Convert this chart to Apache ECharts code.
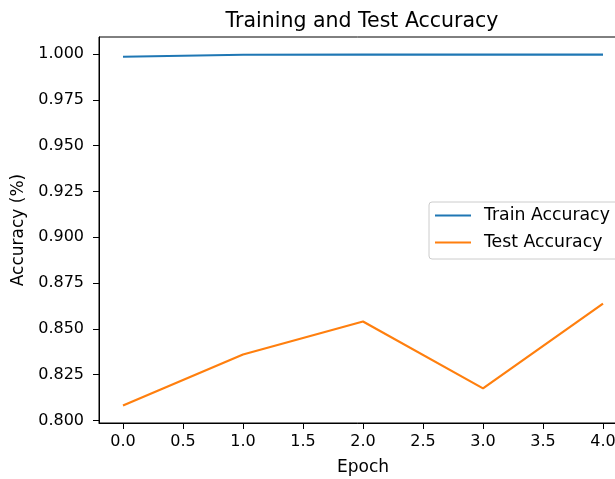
<!DOCTYPE html>
<html>
<head>
<meta charset="utf-8">
<script src="https://cdn.jsdelivr.net/npm/echarts@6/dist/echarts.min.js"></script>
<style>
  html, body { margin: 0; padding: 0; background: #fff; }
  #chart { width: 615px; height: 479px; }
</style>
</head>
<body>
<div id="chart"></div>
<script>
// Per-epoch accuracy values
const epochs = [0, 1, 2, 3, 4];
const trainAccuracy = [0.9985, 0.9996, 0.9997, 0.9997, 0.9997];
const testAccuracy = [0.8082, 0.8360, 0.8540, 0.8175, 0.8638];

// Tick positions shown on each axis
const xTicks = [0, 0.5, 1, 1.5, 2, 2.5, 3, 3.5, 4];
const yTicks = [0.800, 0.825, 0.850, 0.875, 0.900, 0.925, 0.950, 0.975, 1.000];

const FONT = 'DejaVu Sans';
const TICK_SIZE = 16;
const LABEL_SIZE = 17;

// Axis limits padded by 5% of the data span on each side
const xMin = -0.2, xMax = 4.2;
const allY = trainAccuracy.concat(testAccuracy);
const yLo = Math.min.apply(null, allY), yHi = Math.max.apply(null, allY);
const yPad = (yHi - yLo) * 0.05;

const chart = echarts.init(document.getElementById('chart'), null, { renderer: 'canvas' });

chart.setOption({
  animation: false,
  backgroundColor: '#ffffff',
  textStyle: { fontFamily: FONT },
  title: {
    text: 'Training and Test Accuracy',
    left: 357,
    textAlign: 'center',
    top: 6,
    textStyle: { fontFamily: FONT, fontSize: 20.5, fontWeight: 'normal', color: '#000' }
  },
  grid: {
    left: 99, top: 37, width: 528, height: 386,
    containLabel: false,
    outerBoundsMode: 'none',
    show: true,
    borderColor: '#000',
    borderWidth: 1,
    backgroundColor: 'transparent'
  },
  legend: {
    orient: 'vertical',
    left: 429,
    top: 202,
    padding: [5, 10, 8, 6],
    itemGap: 10,
    itemWidth: 36,
    itemHeight: 14,
    backgroundColor: 'rgba(255,255,255,0.8)',
    borderColor: '#cccccc',
    borderWidth: 1,
    borderRadius: 3,
    textStyle: { fontFamily: FONT, fontSize: 17.3, color: '#000', padding: [0, 0, 0, 8] },
    data: [
      { name: 'Train Accuracy', icon: 'path://M0,0 L36,0 L36,2.2 L0,2.2 Z' },
      { name: 'Test Accuracy', icon: 'path://M0,0 L36,0 L36,2.2 L0,2.2 Z' }
    ]
  },
  xAxis: {
    type: 'value',
    min: xMin,
    max: xMax,
    name: 'Epoch',
    nameLocation: 'middle',
    nameGap: 36,
    nameTextStyle: { fontFamily: FONT, fontSize: LABEL_SIZE, color: '#000' },
    axisLine: { show: true, onZero: false, lineStyle: { color: '#000', width: 1 } },
    axisTick: { show: true, length: 6, customValues: xTicks, lineStyle: { color: '#000' } },
    axisLabel: {
      customValues: xTicks,
      margin: 11,
      fontFamily: FONT, fontSize: TICK_SIZE, color: '#000',
      formatter: v => v.toFixed(1)
    },
    splitLine: { show: false }
  },
  yAxis: {
    type: 'value',
    min: yLo - yPad,
    max: yHi + yPad,
    name: 'Accuracy (%)',
    nameLocation: 'middle',
    nameGap: 70,
    nameTextStyle: { fontFamily: FONT, fontSize: LABEL_SIZE, color: '#000' },
    axisLine: { show: true, onZero: false, lineStyle: { color: '#000', width: 1 } },
    axisTick: { show: true, length: 6, customValues: yTicks, lineStyle: { color: '#000' } },
    axisLabel: {
      customValues: yTicks,
      margin: 15,
      fontFamily: FONT, fontSize: TICK_SIZE, color: '#000',
      formatter: v => v.toFixed(3)
    },
    splitLine: { show: false }
  },
  series: [
    {
      name: 'Train Accuracy',
      type: 'line',
      data: epochs.map((e, i) => [e, trainAccuracy[i]]),
      symbol: 'none',
      color: '#1f77b4',
      lineStyle: { color: '#1f77b4', width: 2.2 }
    },
    {
      name: 'Test Accuracy',
      type: 'line',
      data: epochs.map((e, i) => [e, testAccuracy[i]]),
      symbol: 'none',
      color: '#ff7f0e',
      lineStyle: { color: '#ff7f0e', width: 2.2 }
    }
  ]
});
</script>
</body>
</html>
